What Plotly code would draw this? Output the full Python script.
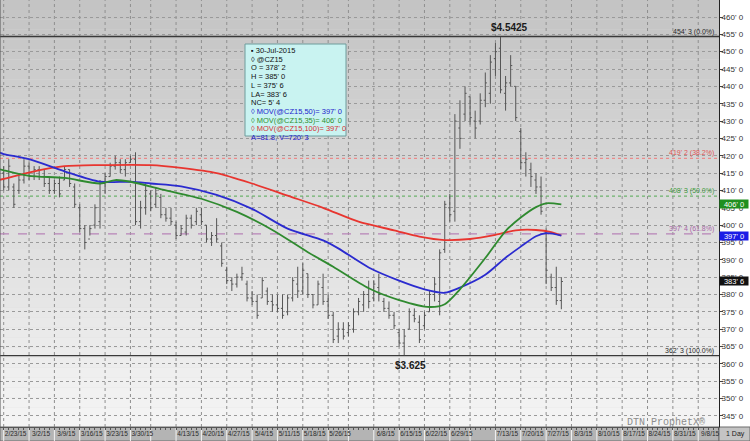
import numpy as np
import pandas as pd
import plotly.graph_objects as go

# ---------------- calendar ----------------
HOLIDAYS = ["2015-04-03", "2015-05-25", "2015-07-03", "2015-09-07"]
ORIGIN = np.datetime64("2015-02-23")


def tday(d):
    d = np.datetime64(d)
    if d >= ORIGIN:
        return int(np.busday_count(ORIGIN, d, holidays=HOLIDAYS))
    return -int(np.busday_count(d, ORIGIN, holidays=HOLIDAYS))


bar_dates = [d.strftime("%Y-%m-%d") for d in pd.bdate_range("2015-02-23", "2015-07-30")
             if d.strftime("%Y-%m-%d") not in HOLIDAYS]

# ---------------- data (cents/bu, @CZ15 daily) ----------------
open_ = [415, 411, 411, 410, 413,
         417, 414, 416, 414, 412,
         410, 412, 413, 416, 411,
         405, 399, 396, 400, 401,
         412, 414, 417, 418, 416,
         418, 419, 401, 405,
         409, 406, 408, 403, 402,
         400, 397, 398, 402, 401,
         403, 400, 396, 397, 394,
         387, 384, 383, 385, 383,
         379, 378, 379, 381, 378,
         377, 376, 375, 379, 383,
         381, 386, 380, 377, 382,
         378, 374, 368, 370,
         369, 370, 375, 377, 380,
         379, 382, 378, 376, 374,
         369, 366, 370, 374, 372,
         371, 375, 380, 378, 393,
         405, 404, 428, 432,
         437, 430, 430, 436, 438,
         448, 451, 438, 441, 440,
         427, 418, 416, 413, 411,
         398, 385, 382, 378.25]
high = [417, 419, 412, 415, 419,
        418, 417, 417, 416, 414,
        413, 414, 417, 416, 412,
        406, 400, 400, 406, 413,
        415, 418, 420, 419, 419,
        420, 421, 407, 412,
        410, 411, 409, 405, 405,
        401, 400, 403, 403, 405,
        405, 400, 398, 402, 395,
        388, 385, 386, 388, 384,
        381, 380, 385, 382, 380,
        380, 380, 380, 385, 388,
        389, 386, 380, 384, 386,
        380, 375, 372, 372,
        372, 376, 379, 381, 384,
        384, 386, 379, 378, 375,
        370, 370, 376, 376, 374,
        375, 381, 385, 393, 407,
        409, 432, 436, 440,
        437, 433, 438, 444, 449,
        452.5, 454.25, 443, 449, 440,
        428, 421, 418, 415, 414,
        399, 386, 388, 385]
low = [410, 410, 405, 409, 412,
       413, 413, 413, 411, 409,
       409, 408, 413, 411, 405,
       398, 393, 397, 399, 399,
       409, 414, 416, 415, 414,
       418, 400, 399, 403,
       404, 405, 402, 401, 400,
       396, 397, 397, 399, 400,
       400, 395, 394, 395, 388,
       383, 381, 382, 384, 378,
       377, 373, 379, 377, 375,
       375, 373, 374, 378, 379,
       380, 379, 376, 377, 377,
       373, 366, 366, 367,
       368, 369, 374, 375, 376,
       378, 378, 375, 373, 370,
       365, 362.5, 370, 372, 366,
       370, 375, 378, 374, 392,
       401, 401, 422, 430,
       429, 425, 429, 434, 435,
       443, 438, 433, 440, 430,
       416, 414, 411, 409, 403,
       383, 381, 377, 375.75]
close = [411, 417, 406, 413, 417,
         414, 416, 414, 412, 410,
         412, 409, 416, 412, 406,
         399, 395, 399, 405, 412,
         414, 417, 418, 416, 418,
         419, 401, 405, 410,
         405, 409, 403, 402, 401,
         397, 399, 402, 400, 404,
         401, 396, 397, 396, 389,
         384, 383, 385, 386, 379,
         378, 374, 384, 378, 377,
         376, 374, 379, 384, 381,
         387, 380, 377, 383, 378,
         374, 367, 370, 368,
         371, 375, 378, 380, 378,
         383, 380, 376, 374, 371,
         366, 368, 375, 373, 367,
         374, 380, 383, 392, 406,
         403, 430, 425, 438,
         431, 428, 436, 441, 447,
         450, 439, 441, 446, 431,
         418, 419, 414, 411, 404,
         387, 382, 378.25, 383.75]

# moving averages
ma50_dates = ["2015-02-20", "2015-02-23", "2015-03-02", "2015-03-11", "2015-03-20", "2015-03-30",
              "2015-04-06", "2015-04-14", "2015-04-23", "2015-05-04", "2015-05-13", "2015-05-22",
              "2015-05-28", "2015-06-05", "2015-06-15", "2015-06-22", "2015-06-26", "2015-07-01",
              "2015-07-09", "2015-07-15", "2015-07-20", "2015-07-23", "2015-07-27", "2015-07-30"]
ma50 = [421, 420.5, 419, 415.5, 412.5, 412.5, 412, 411.2, 408.7, 404.7, 399, 395.6,
        393.3, 387.8, 384, 381.5, 380.5, 382, 385.7, 390.6, 393.8, 396.8, 397.7, 397]
ma35_dates = ["2015-02-20", "2015-02-23", "2015-03-02", "2015-03-11", "2015-03-20", "2015-03-25",
              "2015-03-30", "2015-04-09", "2015-04-20", "2015-04-29", "2015-05-08", "2015-05-19",
              "2015-05-27", "2015-06-05", "2015-06-15", "2015-06-23", "2015-06-26", "2015-07-01",
              "2015-07-09", "2015-07-15", "2015-07-20", "2015-07-23", "2015-07-27", "2015-07-30"]
ma35 = [416.2, 415.8, 414.2, 413.6, 412, 413, 412.5, 410, 407.6, 403.8, 398.6, 392.2,
        388, 381.8, 378.4, 376.4, 377.2, 381.5, 390.5, 398.3, 402.2, 405.2, 406.3, 406.0]
ma100_dates = ["2015-02-20", "2015-02-23", "2015-03-03", "2015-03-11", "2015-03-20", "2015-04-06",
               "2015-04-14", "2015-04-23", "2015-05-04", "2015-05-13", "2015-05-22", "2015-06-03",
               "2015-06-12", "2015-06-19", "2015-06-26", "2015-07-06", "2015-07-13", "2015-07-17",
               "2015-07-23", "2015-07-28", "2015-07-30"]
ma100 = [413, 413.3, 415.5, 417, 417.3, 417.3, 416.5, 415, 412, 408.5, 405, 401,
         398.5, 396.7, 395.7, 396, 397.2, 398.5, 398.6, 398, 397]

fib_levels = [454.375, 419.25, 408.375, 397.5, 362.375]
fib_pcts = ["0.0%", "38.2%", "50.0%", "61.8%", "100.0%"]

week_starts = ["2015-02-23", "2015-03-02", "2015-03-09", "2015-03-16", "2015-03-23", "2015-03-30",
               "2015-04-06", "2015-04-13", "2015-04-20", "2015-04-27", "2015-05-04", "2015-05-11",
               "2015-05-18", "2015-05-26", "2015-06-01", "2015-06-08", "2015-06-15", "2015-06-22",
               "2015-06-29", "2015-07-06", "2015-07-13", "2015-07-20", "2015-07-27", "2015-08-03",
               "2015-08-10", "2015-08-17", "2015-08-24", "2015-08-31", "2015-09-08"]
week_labels = ["2/23/15", "3/2/15", "3/9/15", "3/16/15", "3/23/15", "3/30/15",
               "", "4/13/15", "4/20/15", "4/27/15", "5/4/15", "5/11/15",
               "5/18/15", "5/26/15", "", "6/8/15", "6/15/15", "6/22/15",
               "6/29/15", "", "7/13/15", "7/20/15", "7/27/15", "8/3/15",
               "8/10/15", "8/17/15", "8/24/15", "8/31/15", "9/8/15"]

price_ticks = list(range(345, 461, 5))


def fmt8(v):
    w = int(np.floor(v + 1e-9))
    e = int(round((v - w) * 8))
    return f"{w}' {e}"


# ---------------- figure ----------------
W, H = 750, 441
ML, MR, MT, MB = 0, 31, 0, 14
PW, PH = W - ML - MR, H - MT - MB
FONT = "Liberation Sans, Arial, sans-serif"

xb = [tday(d) for d in bar_dates]

fig = go.Figure()

fig.add_trace(go.Ohlc(
    x=xb, open=open_, high=high, low=low, close=close,
    increasing=dict(line=dict(color="#555555", width=1)),
    decreasing=dict(line=dict(color="#555555", width=1)),
    tickwidth=0.32, hoverinfo="skip", showlegend=False))

for dts, vals, col in [(ma100_dates, ma100, "#e8352f"),
                       (ma50_dates, ma50, "#2b2bcf"),
                       (ma35_dates, ma35, "#2f8a2f")]:
    fig.add_trace(go.Scatter(
        x=[tday(d) for d in dts], y=vals, mode="lines",
        line=dict(color=col, width=1.8, shape="spline", smoothing=0.8),
        hoverinfo="skip", showlegend=False))

shapes = []
# vertical gradient background of plot area
N = 43
for k in range(N):
    t = (k + 0.5) / N  # 0 bottom -> 1 top
    c = int(round(245 - 50 * t))
    shapes.append(dict(type="rect", xref="paper", yref="paper", x0=0, x1=1,
                       y0=k / N, y1=(k + 1) / N, fillcolor=f"rgb({c},{c},{c})",
                       line=dict(width=0), layer="below"))
# weekly gridlines
for d in week_starts:
    x = tday(d)
    shapes.append(dict(type="line", xref="x", yref="paper", x0=x, x1=x, y0=0, y1=1,
                       line=dict(color="#8f8f8f", width=1, dash="dot"), layer="below"))
# date strip
shapes.append(dict(type="rect", xref="paper", yref="paper", x0=0, x1=1,
                   y0=-MB / PH, y1=0, fillcolor="#b4b4b4",
                   line=dict(color="#6c6c6c", width=1), layer="below"))
shapes.append(dict(type="rect", xref="paper", yref="paper", x0=1, x1=W / PW,
                   y0=-MB / PH, y1=0, fillcolor="#c4c4c4",
                   line=dict(color="#6c6c6c", width=1), layer="below"))
for d in week_starts:
    x = tday(d)
    shapes.append(dict(type="line", xref="x", yref="paper", x0=x, x1=x, y0=-MB / PH, y1=0,
                       line=dict(color="#f2f2f2", width=1), layer="below"))
# fibonacci levels
fib_styles = [("#3a3a3a", "solid", 1.4), ("#ec8a8a", "dot", 1.2), ("#6db36d", "dot", 1.2),
              ("#b884b8", "dash", 1.3), ("#3a3a3a", "solid", 1.4)]
for lv, (col, dash, wd) in zip(fib_levels, fib_styles):
    shapes.append(dict(type="line", xref="paper", yref="y", x0=0, x1=1, y0=lv, y1=lv,
                       line=dict(color=col, width=wd, dash=dash), layer="below"))
# left border
shapes.append(dict(type="line", xref="paper", yref="paper", x0=0, x1=0, y0=0, y1=1,
                   line=dict(color="#555555", width=1)))

# legend / data box
bx0, bx1, by0, by1 = 245, 346, 44, 136
shapes.append(dict(type="rect", xref="paper", yref="paper",
                   x0=bx0 / PW, x1=bx1 / PW, y0=1 - by1 / PH, y1=1 - by0 / PH,
                   fillcolor="#c9f3f1", line=dict(color="#6f9c9c", width=1), layer="above"))

annotations = []
fib_cols = ["#2a2a2a", "#e05555", "#3f9a3f", "#a866a8", "#2a2a2a"]
for lv, pc, col in zip(fib_levels, fib_pcts, fib_cols):
    annotations.append(dict(xref="paper", yref="y", x=716 / PW, y=lv, xanchor="right",
                            yanchor="bottom", yshift=-1, showarrow=False,
                            text=f"{fmt8(lv)} ({pc})", font=dict(family=FONT, size=7, color=col)))

i_hi = int(np.argmax(high))
i_lo = int(np.argmin(low))
annotations.append(dict(xref="x", yref="y", x=xb[i_hi] + 1.8, y=fib_levels[0], yanchor="bottom",
                        yshift=2, showarrow=False, text=f"<b>${high[i_hi] / 100:.4f}</b>",
                        font=dict(family=FONT, size=10, color="#1a1a1a")))
annotations.append(dict(xref="x", yref="y", x=xb[i_lo] + 1.2, y=fib_levels[-1], yanchor="top",
                        yshift=-2, showarrow=False, text=f"<b>${low[i_lo] / 100:.3f}</b>",
                        font=dict(family=FONT, size=10, color="#1a1a1a")))

# right-side value badges
for val, bg in [(ma35[-1], "#1f8f1f"), (ma50[-1], "#1c1ce6"), (close[-1], "#111111")]:
    annotations.append(dict(xref="paper", yref="y", x=1, y=val, xanchor="left", yanchor="middle",
                            showarrow=False, text=fmt8(val), bgcolor=bg, width=28, height=8,
                            borderpad=0, font=dict(family=FONT, size=7.5, color="white")))

# data box lines
nc = close[-1] - close[-2]
box_lines = [
    ("▪ " + pd.Timestamp(bar_dates[-1]).strftime("%d-%b-%Y"), "#111111"),
    ("◊ @CZ15", "#111111"),
    (f"O = {fmt8(open_[-1])}", "#111111"),
    (f"H = {fmt8(high[-1])}", "#111111"),
    (f"L = {fmt8(low[-1])}", "#111111"),
    (f"LA= {fmt8(close[-1])}", "#111111"),
    (f"NC= {fmt8(nc)}", "#111111"),
    (f"◊ MOV(@CZ15,50)= {fmt8(ma50[-1])}", "#2222cc"),
    (f"◊ MOV(@CZ15,35)= {fmt8(ma35[-1])}", "#2f8f2f"),
    (f"◊ MOV(@CZ15,100)= {fmt8(ma100[-1])}", "#d83030"),
    ("A=81.8, V=720' 3", "#2222cc"),
]
tx0 = 250
for k, (txt, col) in enumerate(box_lines):
    ycen = 50.5 + 8.7 * k
    annotations.append(dict(xref="paper", yref="paper", x=tx0 / PW, y=1 - ycen / PH,
                            xanchor="left", yanchor="middle", showarrow=False, text=txt,
                            align="left", width=bx1 - tx0 - 1, borderpad=0,
                            font=dict(family=FONT, size=7.5, color=col)))

annotations.append(dict(xref="paper", yref="paper", x=707 / PW, y=1 - 422 / PH,
                        xanchor="right", yanchor="middle", showarrow=False,
                        text="DTN ProphetX®", font=dict(family="Liberation Mono, Courier New, monospace",
                                                       size=10, color="#8c8c8c")))
annotations.append(dict(xref="paper", yref="paper", x=(W - 15) / PW, y=-7 / PH,
                        xanchor="center", yanchor="middle", showarrow=False,
                        text="1 Day", font=dict(family=FONT, size=7, color="#222222")))

label_vals = [tday(d) + 2.35 for d, lab in zip(week_starts, week_labels) if lab]
label_txt = [lab for lab in week_labels if lab]

fig.update_layout(
    width=W, height=H, margin=dict(l=ML, r=MR, t=MT, b=MB, autoexpand=False),
    paper_bgcolor="white", plot_bgcolor="#dcdcdc",
    showlegend=False, hovermode=False,
    shapes=shapes, annotations=annotations,
    xaxis=dict(range=[-0.73, 141.1], tickmode="array", tickvals=label_vals, ticktext=label_txt,
               ticks="", showgrid=False, zeroline=False, showline=True, mirror=True,
               linecolor="#555555", linewidth=1, automargin=False,
               tickfont=dict(family=FONT, size=6.5, color="#2a2a2a"),
               minor=dict(tickmode="linear", tick0=0, dtick=1, ticks="outside",
                          ticklen=2, tickcolor="#555555", showgrid=False),
               rangeslider=dict(visible=False), fixedrange=True),
    yaxis=dict(side="right", range=[341.8, 464.9], tickmode="array", tickvals=price_ticks,
               ticktext=[fmt8(v) for v in price_ticks], ticks="outside", ticklen=3,
               tickcolor="#444444", showgrid=True, gridcolor="#9a9a9a", griddash="dot",
               gridwidth=1, zeroline=False, showline=True, linecolor="#222222", linewidth=1,
               automargin=False, ticklabelstandoff=-3,
               tickfont=dict(family=FONT, size=8, color="#333333"), fixedrange=True),
)

fig.write_html("out.html", config={"displayModeBar": False, "staticPlot": True},
               post_script="document.body.style.margin='0';document.body.style.overflow='hidden';")
